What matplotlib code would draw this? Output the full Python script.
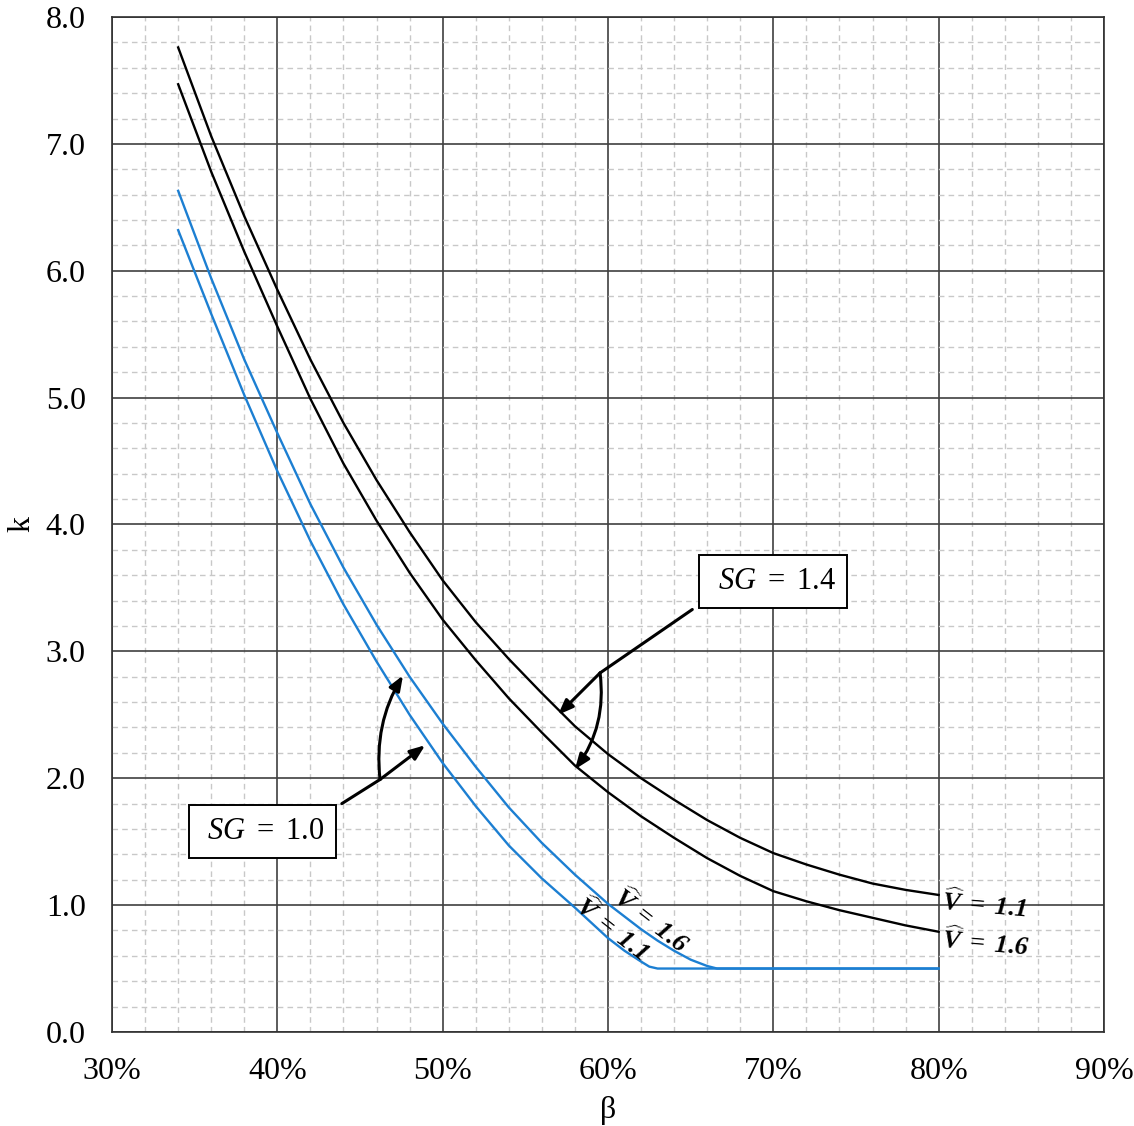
import matplotlib
matplotlib.use('Agg')
import matplotlib.pyplot as plt
from matplotlib.ticker import MultipleLocator, FixedLocator, FixedFormatter

plt.rcParams['font.family'] = ['Liberation Serif', 'DejaVu Serif']
plt.rcParams['mathtext.fontset'] = 'custom'
plt.rcParams['mathtext.rm'] = 'Liberation Serif'
plt.rcParams['mathtext.it'] = 'Liberation Serif:italic'
plt.rcParams['mathtext.bf'] = 'Liberation Serif:bold:italic'

# ---------------- data (beta in %, k) ----------------
beta_sg14 = [34, 36, 38, 40, 42, 44, 46, 48, 50, 52, 54, 56, 58, 60,
             62, 64, 66, 68, 70, 72, 74, 76, 78, 80]
k_sg14_v11 = [7.76, 7.06, 6.43, 5.85, 5.30, 4.80, 4.35, 3.94, 3.56, 3.23,
              2.94, 2.67, 2.41, 2.19, 2.00, 1.83, 1.67, 1.53, 1.41, 1.32,
              1.24, 1.17, 1.12, 1.08]
k_sg14_v16 = [7.47, 6.78, 6.15, 5.56, 4.99, 4.48, 4.03, 3.62, 3.25, 2.93,
              2.63, 2.36, 2.10, 1.89, 1.70, 1.53, 1.37, 1.23, 1.11, 1.03,
              0.96, 0.90, 0.84, 0.79]

beta_sg10_v16 = [34, 36, 38, 40, 42, 44, 46, 48, 50, 52, 54, 56, 58, 60,
                 62, 63, 64, 65, 66, 66.6, 68, 70, 72, 74, 76, 78, 80]
k_sg10_v16 = [6.63, 5.94, 5.30, 4.72, 4.16, 3.66, 3.21, 2.80, 2.43, 2.09,
              1.77, 1.49, 1.24, 1.01, 0.81, 0.72, 0.64, 0.57, 0.52, 0.50,
              0.50, 0.50, 0.50, 0.50, 0.50, 0.50, 0.50]

beta_sg10_v11 = [34, 36, 38, 40, 42, 44, 46, 48, 50, 52, 54, 56, 58, 59,
                 60, 61, 62, 62.5, 63, 64, 66, 68, 70, 72, 74, 76, 78, 80]
k_sg10_v11 = [6.32, 5.66, 5.02, 4.42, 3.87, 3.37, 2.92, 2.50, 2.12, 1.78,
              1.47, 1.21, 0.98, 0.86, 0.74, 0.64, 0.555, 0.515, 0.50, 0.50,
              0.50, 0.50, 0.50, 0.50, 0.50, 0.50, 0.50, 0.50]

x_ticks = [30, 40, 50, 60, 70, 80, 90]
x_tick_labels = ['30%', '40%', '50%', '60%', '70%', '80%', '90%']
y_ticks = [0, 1, 2, 3, 4, 5, 6, 7, 8]
y_tick_labels = ['0.0', '1.0', '2.0', '3.0', '4.0', '5.0', '6.0', '7.0', '8.0']

# ---------------- figure ----------------
fig = plt.figure(figsize=(11.34, 11.26), dpi=100)
ax = fig.add_axes([0.0988, 0.0835, 0.9735 - 0.0988, 0.9849 - 0.0835])

ax.set_xlim(30, 90)
ax.set_ylim(0, 8)
ax.xaxis.set_major_locator(FixedLocator(x_ticks))
ax.xaxis.set_major_formatter(FixedFormatter(x_tick_labels))
ax.yaxis.set_major_locator(FixedLocator(y_ticks))
ax.yaxis.set_major_formatter(FixedFormatter(y_tick_labels))
ax.xaxis.set_minor_locator(MultipleLocator(2))
ax.yaxis.set_minor_locator(MultipleLocator(0.2))

ax.grid(which='minor', color='#c8c8c8', linestyle=(0, (4, 3)), linewidth=1.0)
ax.grid(which='major', color='#404040', linestyle='-', linewidth=1.2)
ax.set_axisbelow(True)
ax.tick_params(which='both', length=0)
ax.tick_params(axis='x', pad=18, labelsize=23)
ax.tick_params(axis='y', pad=19, labelsize=23)
for s in ax.spines.values():
    s.set_color('#303030')
    s.set_linewidth(1.2)

ax.set_xlabel('β', fontsize=23, labelpad=7)
ax.set_ylabel('k', fontsize=23, labelpad=7)

blue = '#1c7fd2'
ax.plot(beta_sg14, k_sg14_v11, color='black', lw=1.7, zorder=3)
ax.plot(beta_sg14, k_sg14_v16, color='black', lw=1.7, zorder=3)
ax.plot(beta_sg10_v16, k_sg10_v16, color=blue, lw=1.7, zorder=3)
ax.plot(beta_sg10_v11, k_sg10_v11, color=blue, lw=1.7, zorder=3)

# ---------------- curve labels ----------------
lab_kw = dict(fontsize=19, ha='left', va='center', rotation_mode='anchor', zorder=5)
ax.text(80.2, 1.03, r'$\mathbf{\widehat{V}\ =\ 1.1}$', rotation=-5, **lab_kw)
ax.text(80.2, 0.73, r'$\mathbf{\widehat{V}\ =\ 1.6}$', rotation=-5, **lab_kw)
ax.text(60.5, 1.09, r'$\mathbf{\widehat{V}\ =\ 1.6}$', rotation=-38, **lab_kw)
ax.text(58.2, 1.02, r'$\mathbf{\widehat{V}\ =\ 1.1}$', rotation=-38, **lab_kw)

# ---------------- SG boxes and arrows ----------------
box = dict(boxstyle='square,pad=0.38', fc='white', ec='black', lw=1.4)
ax.text(70.0, 3.55, r'$\ SG\ =\ 1.4\ $', fontsize=22, ha='center', va='center',
        bbox=box, zorder=6)
ax.text(39.1, 1.58, r'$\ SG\ =\ 1.0\ $', fontsize=22, ha='center', va='center',
        bbox=box, zorder=6)

arrow_kw = dict(arrowstyle='-|>,head_length=0.9,head_width=0.35',
                color='black', lw=2.2, shrinkA=0, shrinkB=0)

# SG = 1.4
ax.plot([65.1, 59.52], [3.33, 2.83], color='black', lw=2.2, zorder=5,
        solid_capstyle='round')
ax.annotate('', xy=(56.98, 2.50), xytext=(59.52, 2.83),
            arrowprops=dict(**arrow_kw, connectionstyle='arc3,rad=0'), zorder=5)
ax.annotate('', xy=(58.0, 2.07), xytext=(59.52, 2.83),
            arrowprops=dict(**arrow_kw, connectionstyle='arc3,rad=-0.2'), zorder=5)

# SG = 1.0
ax.plot([43.9, 46.21], [1.80, 1.99], color='black', lw=2.2, zorder=5,
        solid_capstyle='round')
ax.annotate('', xy=(48.94, 2.26), xytext=(46.21, 1.99),
            arrowprops=dict(**arrow_kw, connectionstyle='arc3,rad=0'), zorder=5)
ax.annotate('', xy=(47.6, 2.81), xytext=(46.21, 1.99),
            arrowprops=dict(**arrow_kw, connectionstyle='arc3,rad=-0.17'), zorder=5)

fig.savefig('out.png', dpi=100)
